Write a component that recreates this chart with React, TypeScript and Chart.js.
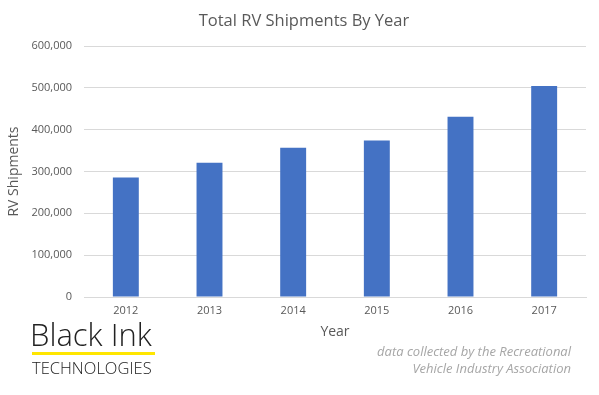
import React, { useEffect, useRef } from "react";
import { Chart, registerables } from "chart.js";

Chart.register(...registerables);

const years = ["2012", "2013", "2014", "2015", "2016", "2017"];
const shipments = [285749, 321127, 356735, 374246, 430691, 504599];
const chartTitle = "Total RV Shipments By Year";
const yTitle = "RV Shipments";
const xTitle = "Year";
const footnote = ["data collected by the Recreational", "Vehicle Industry Association"];

const FONT = "'Open Sans', 'Noto Sans', sans-serif";

export default function App() {
  const ref = useRef<HTMLCanvasElement | null>(null);
  useEffect(() => {
    if (!ref.current) return;
    const chart = new Chart(ref.current, {
      type: "bar",
      data: {
        labels: years,
        datasets: [
          {
            data: shipments,
            backgroundColor: "#4472c4",
            barPercentage: 0.62,
            categoryPercentage: 0.5,
          },
        ],
      },
      options: {
        responsive: false,
        animation: false,
        layout: { padding: { left: 6, right: 13, top: 46, bottom: 55 } },
        plugins: { legend: { display: false }, title: { display: false }, tooltip: { enabled: false } },
        scales: {
          x: {
            grid: { display: false, drawTicks: false },
            border: { display: true, color: "#d9d9d9" },
            ticks: { color: "#595959", font: { family: FONT, size: 11 }, padding: 7 },
            title: { display: true, text: xTitle, color: "#595959", font: { family: FONT, size: 14 }, padding: 0 },
            afterFit: (s: any) => { s.height = 43; },
          },
          y: {
            min: 0,
            max: 600000,
            ticks: {
              stepSize: 100000,
              color: "#595959",
              font: { family: FONT, size: 11 },
              padding: 12,
              callback: (v: any) => Number(v).toLocaleString("en-US"),
            },
            grid: { color: "#d9d9d9", drawTicks: false },
            border: { display: false },
            title: { display: true, text: yTitle, color: "#595959", font: { family: FONT, size: 14 }, padding: 0 },
            afterFit: (s: any) => { s.width = 78; },
          },
        },
      },
    });
    return () => chart.destroy();
  }, []);

  return (
    <div style={{ position: "absolute", left: 0, top: 0, width: 599, height: 395, background: "#fff", overflow: "hidden" }}>
      <canvas ref={ref} width={599} height={395} style={{ position: "absolute", left: 0, top: 0 }} />
      <div style={{ position: "absolute", left: 0, width: 608, top: 10, textAlign: "center", fontFamily: FONT, fontSize: 16.5, lineHeight: "20px", color: "#595959", whiteSpace: "nowrap" }}>
        {chartTitle}
      </div>
      <div style={{ position: "absolute", left: 30, top: 319, fontFamily: FONT, fontWeight: 300, fontSize: 31, lineHeight: "31px", color: "#222", whiteSpace: "nowrap" }}>
        Black Ink
      </div>
      <div style={{ position: "absolute", left: 32, top: 352, width: 123, height: 2.5, background: "#ffe600" }} />
      <div style={{ position: "absolute", left: 32, top: 358, fontFamily: FONT, fontWeight: 300, fontSize: 16.5, lineHeight: "20px", color: "#222", whiteSpace: "nowrap" }}>
        TECHNOLOGIES
      </div>
      <div style={{ position: "absolute", right: 28, top: 343, textAlign: "right", fontFamily: FONT, fontStyle: "italic", fontSize: 13, lineHeight: "17px", color: "#a6a6a6", whiteSpace: "nowrap" }}>
        {footnote[0]}
        <br />
        {footnote[1]}
      </div>
    </div>
  );
}
